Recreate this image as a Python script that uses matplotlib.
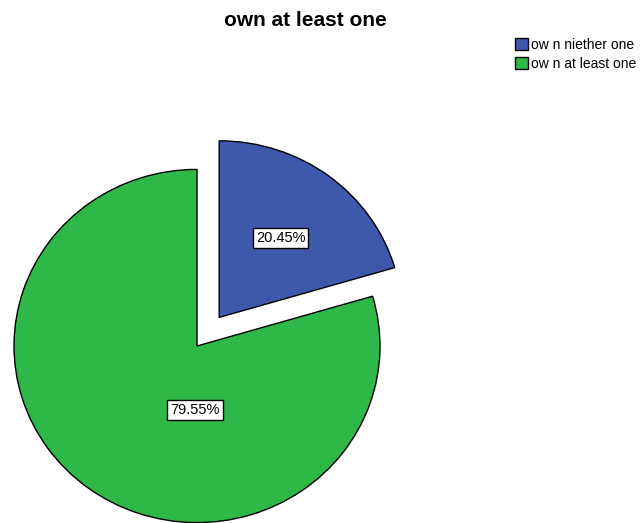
import numpy as np
import matplotlib.pyplot as plt
from matplotlib.patches import Patch

plt.rcParams['font.family'] = ['Liberation Sans', 'DejaVu Sans']

# data
categories = ['ow n niether one', 'ow n at least one']
percents = [20.45, 79.55]
colors = ['#3E58AC', '#2EB848']

W, H = 641, 523
squash = 0.965  # SPSS draws the pie a little wider than tall

fig = plt.figure(figsize=(W / 100, H / 100), dpi=100)
ax = fig.add_axes([0, 0, 1, 1])

radius = 183
center = (197, (H - 346) / squash)
# explode is in data units here (axes are in pixels)
wedges, texts, autotexts = ax.pie(percents, colors=colors, startangle=90, counterclock=False,
                                  explode=[37, 0], radius=radius, center=center,
                                  autopct='%.2f%%', pctdistance=0.56, frame=True,
                                  wedgeprops=dict(edgecolor='black', linewidth=1.0),
                                  textprops=dict(fontsize=10.5, color='black'))
ax.set_xlim(0, W)
ax.set_ylim(0, H / squash)
ax.set_aspect('auto')
ax.axis('off')

# SPSS puts the big label below the centre
autotexts[1].set_position((center[0] - 2, center[1] - 66))
for t in autotexts:
    t.set_bbox(dict(facecolor='white', edgecolor='black', linewidth=1.0, pad=0.2, boxstyle='square'))

fig.text(305 / W, 1 - 21 / H, 'own at least one', ha='center', va='center',
         fontsize=15, fontweight='bold')

handles = [Patch(facecolor=c, edgecolor='black', linewidth=1.0) for c in colors]
fig.legend(handles, categories, loc='upper left', bbox_to_anchor=(515 / W, 1 - 38 / H),
           frameon=False, fontsize=10, handlelength=0.9, handleheight=0.9,
           handletextpad=0.25, labelspacing=0.35, borderaxespad=0, borderpad=0)

fig.savefig('out.png', dpi=100)
